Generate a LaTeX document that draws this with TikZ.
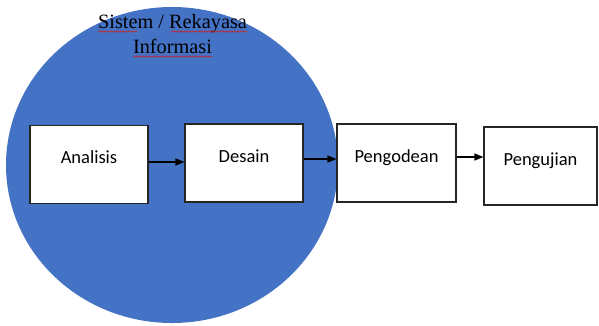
\documentclass[tikz,border=0pt]{standalone}
\usepackage{fontspec}
\usepackage{tikz}
\usetikzlibrary{arrows.meta,decorations.pathmorphing}
\newfontfamily\boxfont{Carlito}
\newfontfamily\titlefont{Liberation Serif}
\definecolor{blue}{HTML}{4472C4}
\definecolor{spellred}{HTML}{D02020}

\begin{document}
\begin{tikzpicture}[x=1pt,y=-1pt,
    stage/.style={draw=black!85,line width=1.1pt,fill=white,minimum width=118pt,
      minimum height=78pt,inner sep=0pt,text height=13pt,text depth=15pt,
      font=\boxfont\fontsize{18.5}{22}\selectfont},
    arr/.style={-{Triangle[length=9pt,width=7pt]},line width=1.1pt},
    spell/.style={spellred,line width=.6pt,decorate,
      decoration={snake,amplitude=.7pt,segment length=3pt}}]
  \useasboundingbox (0,0) rectangle (599,325);
  \fill[blue] (172,165) ellipse [x radius=166,y radius=158];
  \node[align=center,inner sep=0pt,font=\titlefont\fontsize{20.3}{25}\selectfont]
    (title) at (172.5,33.6) {Sistem / Rekayasa\\Informasi};
  \draw[spell] (98,31.5)--(137,31.5);
  \draw[spell] (171,31.5)--(247,31.5);
  \draw[spell] (133,56.5)--(212,56.5);
  \node[stage] (an) at (89,164.5) {Analisis};
  \node[stage] (de) at (244,163) {Desain};
  \node[stage,minimum width=119pt] (pe) at (396.5,163) {Pengodean};
  \node[stage,minimum width=113pt] (pu) at (540.5,166) {Pengujian};
  \draw[arr] ([yshift=2.5pt]an.east) -- ([yshift=2.5pt]an.east -| de.west);
  \draw[arr] ([yshift=4pt]de.east) -- ([yshift=4pt]de.east -| pe.west);
  \draw[arr] ([yshift=6pt]pe.east) -- ([yshift=6pt]pe.east -| pu.west);
\end{tikzpicture}
\end{document}
